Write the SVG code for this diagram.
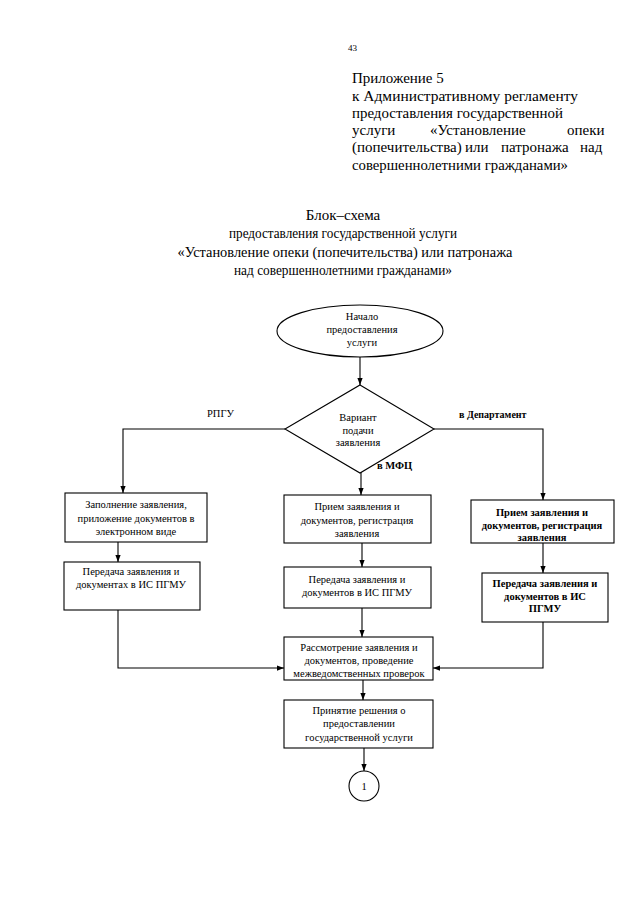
<svg xmlns="http://www.w3.org/2000/svg" width="640" height="905" viewBox="0 0 640 905">
<defs>
<marker id="ah" viewBox="0 0 8 6" refX="8" refY="3" markerWidth="7" markerHeight="6" markerUnits="userSpaceOnUse" orient="auto"><path d="M0,0 L8,3 L0,6 z" fill="#000"/></marker>
<style>
text{font-family:"Liberation Serif","Times New Roman",serif;fill:#000}
.hd{font-size:15px}
.tt{font-size:15px;text-anchor:middle}
.bx{font-size:10.5px;text-anchor:middle}
.b{font-weight:bold}
.shape{fill:#fff;stroke:#000;stroke-width:1.1}
.con{fill:none;stroke:#000;stroke-width:1.1;marker-end:url(#ah)}
</style>
</defs>
<rect width="640" height="905" fill="#fff"/>
<text x="348" y="51" style="font-size:9px">43</text>
<g id="header">
<text class="hd" x="352" y="83">Приложение 5</text>
<text class="hd" x="352" y="101" textLength="226" lengthAdjust="spacingAndGlyphs">к Административному регламенту</text>
<text class="hd" x="352" y="118" textLength="211" lengthAdjust="spacingAndGlyphs">предоставления государственной</text>
<text class="hd" y="135"><tspan x="352">услуги</tspan><tspan x="430">«Установление</tspan><tspan x="567">опеки</tspan></text>
<text class="hd" y="152"><tspan x="352">(попечительства)</tspan><tspan x="465">или</tspan><tspan x="501">патронажа</tspan><tspan x="580">над</tspan></text>
<text class="hd" x="352" y="170" textLength="216" lengthAdjust="spacingAndGlyphs">совершеннолетними гражданами»</text>
</g>
<g id="title">
<text class="tt" x="343" y="220">Блок–схема</text>
<text class="tt" x="343" y="238" style="font-size:14.5px" textLength="228" lengthAdjust="spacingAndGlyphs">предоставления государственной услуги</text>
<text class="tt" x="345" y="257" textLength="335" lengthAdjust="spacingAndGlyphs">«Установление опеки (попечительства) или патронажа</text>
<text class="tt" x="343" y="275" style="font-size:14.5px" textLength="218" lengthAdjust="spacingAndGlyphs">над совершеннолетними гражданами»</text>
</g>
<g id="connectors">
<line class="con" x1="360" y1="357" x2="360" y2="385"/>
<polyline class="con" points="285,429 123,429 123,493"/>
<polyline class="con" points="434,429 543,429 543,500"/>
<line class="con" x1="361" y1="472" x2="361" y2="495"/>
<line class="con" x1="118" y1="542" x2="118" y2="562"/>
<line class="con" x1="362" y1="543" x2="362" y2="567"/>
<line class="con" x1="543" y1="543" x2="543" y2="573"/>
<polyline class="con" points="118,610 118,668 284,668"/>
<line class="con" x1="362" y1="608" x2="362" y2="637"/>
<polyline class="con" points="543,622 543,668 433,668"/>
<line class="con" x1="363" y1="680" x2="363" y2="700"/>
<line class="con" x1="364" y1="748" x2="364" y2="771"/>
<text x="207" y="417" style="font-size:10.5px">РПГУ</text>
<text x="459" y="418" class="b" style="font-size:10px">в Департамент</text>
<text x="377" y="469" class="b" style="font-size:10.5px">в МФЦ</text>
</g>
<g id="start">
<ellipse class="shape" cx="360" cy="331" rx="83" ry="26"/>
<text class="bx" x="362" y="320">Начало</text>
<text class="bx" x="362" y="333">предоставления</text>
<text class="bx" x="362" y="346">услуги</text>
</g>
<g id="decision">
<polygon class="shape" points="360,385 434,429 360,473 285,429"/>
<text class="bx" x="358" y="421">Вариант</text>
<text class="bx" x="358" y="434">подачи</text>
<text class="bx" x="358" y="446">заявления</text>
</g>
<g id="left1">
<rect class="shape" x="65" y="493" width="142" height="49"/>
<text class="bx" x="136" y="508">Заполнение заявления,</text>
<text class="bx" x="136" y="522">приложение документов в</text>
<text class="bx" x="136" y="535">электронном виде</text>
</g>
<g id="left2">
<rect class="shape" x="64" y="562" width="136" height="48"/>
<text class="bx" x="131" y="575">Передача заявления и</text>
<text class="bx" x="131" y="588">документах в ИС ПГМУ</text>
</g>
<g id="mid1">
<rect class="shape" x="284" y="495" width="147" height="48"/>
<text class="bx" x="357" y="510">Прием заявления и</text>
<text class="bx" x="357" y="524">документов, регистрация</text>
<text class="bx" x="357" y="537">заявления</text>
</g>
<g id="mid2">
<rect class="shape" x="284" y="567" width="147" height="41"/>
<text class="bx" x="357" y="583">Передача заявления и</text>
<text class="bx" x="357" y="596">документов в ИС ПГМУ</text>
</g>
<g id="right1">
<rect class="shape" x="471" y="500" width="143" height="43"/>
<text class="bx b" x="542" y="516">Прием заявления и</text>
<text class="bx b" x="542" y="529">документов, регистрация</text>
<text class="bx b" x="542" y="541">заявления</text>
</g>
<g id="right2">
<rect class="shape" x="482" y="573" width="126" height="49"/>
<text class="bx b" x="545" y="587">Передача заявления и</text>
<text class="bx b" x="545" y="600">документов в ИС</text>
<text class="bx b" x="545" y="612">ПГМУ</text>
</g>
<g id="review">
<rect class="shape" x="284" y="637" width="149" height="43"/>
<text class="bx" x="359" y="651">Рассмотрение заявления и</text>
<text class="bx" x="359" y="664">документов, проведение</text>
<text class="bx" x="359" y="677">межведомственных проверок</text>
</g>
<g id="decision2">
<rect class="shape" x="284" y="700" width="149" height="48"/>
<text class="bx" x="359" y="714">Принятие решения о</text>
<text class="bx" x="359" y="727">предоставлении</text>
<text class="bx" x="359" y="741">государственной услуги</text>
</g>
<g id="connector1">
<circle class="shape" cx="364" cy="786" r="15"/>
<text class="bx" x="364" y="790">1</text>
</g>
</svg>
